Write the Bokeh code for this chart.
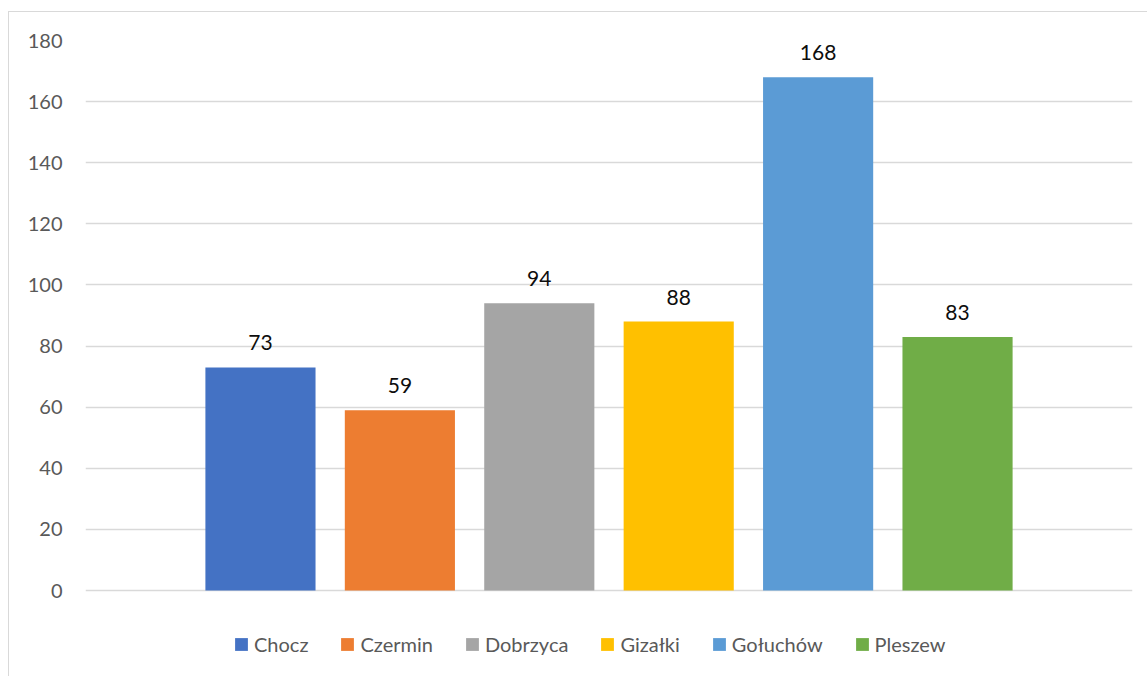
from bokeh.plotting import figure
from bokeh.models import ColumnDataSource, Range1d, FixedTicker, Legend, LegendItem
from bokeh.core.properties import value
from bokeh.embed import file_html
from bokeh.resources import INLINE

names = ["Chocz", "Czermin", "Dobrzyca", "Gizałki", "Gołuchów", "Pleszew"]
values = [73, 59, 94, 88, 168, 83]
colors = ["#4472C4", "#ED7D31", "#A5A5A5", "#FFC000", "#5B9BD5", "#70AD47"]
y_ticks = [0, 20, 40, 60, 80, 100, 120, 140, 160, 180]

FONT = "Lato"

src = ColumnDataSource(dict(
    x=list(range(len(names))),
    top=values,
    name=names,
    color=colors,
    label=[str(v) for v in values],
))

# frame: 550 px for 0..180, extended 80 px below zero to host the legend
y_min = -80 * 180 / 550

p = figure(width=1139, height=665,
           x_range=Range1d(-1.255, len(names) - 1 + 1.255),
           y_range=Range1d(y_min, 180),
           output_backend="svg", toolbar_location=None,
           min_border_left=76, min_border_right=16,
           min_border_top=28, min_border_bottom=7)

p.styles = {"margin-left": "8px", "margin-top": "11px",
            "border-left": "1px solid #d9d9d9", "border-top": "1px solid #d9d9d9"}

p.outline_line_color = None
p.background_fill_color = "white"
p.border_fill_color = "white"

r = p.vbar(x="x", top="top", width=0.79, bottom=0, fill_color="color",
           line_color=None, source=src)

p.text(x="x", y="top", text="label", source=src, text_align="center",
       text_baseline="bottom", y_offset=-17, text_font=value(FONT),
       text_font_size="21px", text_color="#0d0d0d")

p.xaxis.visible = False
p.xgrid.visible = False
p.yaxis.ticker = FixedTicker(ticks=y_ticks)
p.yaxis.axis_line_color = None
p.yaxis.major_tick_line_color = None
p.yaxis.minor_tick_line_color = None
p.yaxis.major_tick_out = 0
p.yaxis.major_label_standoff = 23
p.yaxis.major_label_text_font = FONT
p.yaxis.major_label_text_font_size = "20px"
p.yaxis.major_label_text_color = "#595959"
p.ygrid.ticker = FixedTicker(ticks=y_ticks)
p.ygrid.grid_line_color = "#d9d9d9"
p.ygrid.grid_line_width = 1.3

items = [LegendItem(label=n, renderers=[r], index=i) for i, n in enumerate(names)]
legend = Legend(items=items, orientation="horizontal", location=(148, 14),
                glyph_width=16, glyph_height=16, label_standoff=5, spacing=31,
                padding=0, margin=0, border_line_color=None,
                background_fill_alpha=0,
                label_text_font=FONT, label_text_font_size="20px",
                label_text_color="#595959")
p.add_layout(legend, "center")

open("out.html", "w").write(file_html(p, INLINE))
